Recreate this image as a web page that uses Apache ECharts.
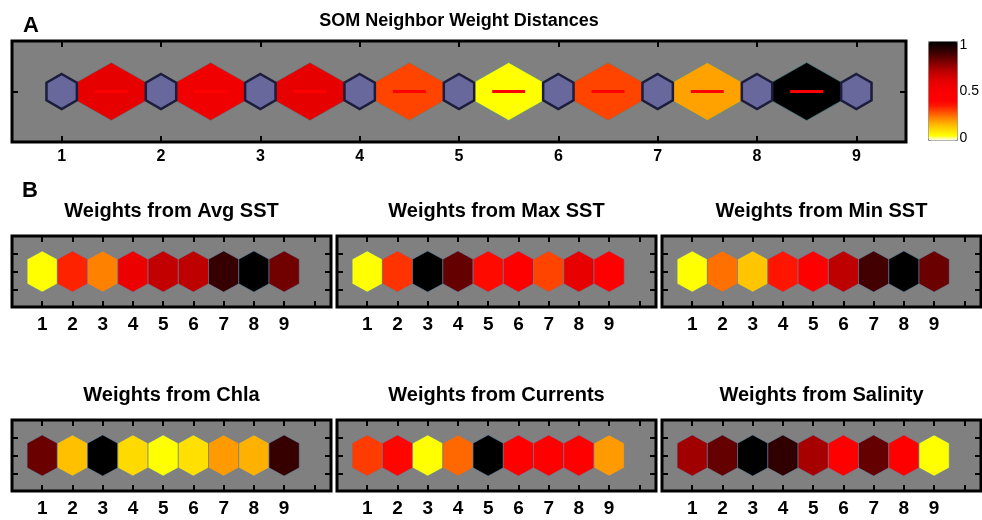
<!DOCTYPE html>
<html>
<head>
<meta charset="utf-8">
<title>SOM weights</title>
<script src="https://cdn.jsdelivr.net/npm/echarts@6/dist/echarts.min.js"></script>
<style>
  html, body { margin: 0; padding: 0; background: #fff; }
  #chart { width: 982px; height: 520px; }
</style>
</head>
<body>
<div id="chart"></div>
<script>
// node labels / positions along the 1-D SOM
const nodeLabels = ['1', '2', '3', '4', '5', '6', '7', '8', '9'];
const nodePos = [1, 2, 3, 4, 5, 6, 7, 8, 9];

// distances between neighbouring neurons (0..1)
const neighborDist = [0.60, 0.55, 0.60, 0.30, 0.05, 0.30, 0.19, 1.00];

// weight planes
const planeTitles = ['Weights from Avg SST', 'Weights from Max SST', 'Weights from Min SST',
                     'Weights from Chla', 'Weights from Currents', 'Weights from Salinity'];
const avgSST    = [0.05, 0.34, 0.23, 0.57, 0.68, 0.69, 0.90, 1.00, 0.81];
const maxSST    = [0.05, 0.32, 1.00, 0.83, 0.38, 0.42, 0.30, 0.60, 0.43];
const minSST    = [0.05, 0.25, 0.14, 0.36, 0.41, 0.69, 0.88, 1.00, 0.82];
const chla      = [0.82, 0.15, 1.00, 0.11, 0.05, 0.10, 0.20, 0.17, 0.90];
const currents  = [0.31, 0.39, 0.05, 0.26, 1.00, 0.42, 0.43, 0.44, 0.20];
const salinity  = [0.74, 0.83, 1.00, 0.91, 0.73, 0.42, 0.83, 0.43, 0.05];
const planeValues = [avgSST, maxSST, minSST, chla, currents, salinity];

// colorbar ticks
const colorTicks = [0, 0.5, 1];
// reversed "hot" map, 0 -> 1
const hotColors = ['#ffffff', '#ffff00', '#ffe000', '#ffc000', '#ff9a00', '#ff7000', '#ff4400',
                   '#ff1a00', '#ff0000', '#ff0000', '#fa0000', '#f00000', '#e60000', '#d20000',
                   '#b80000', '#9a0000', '#780000', '#560000', '#360000', '#1a0000', '#000000'];

const chart = echarts.init(document.getElementById('chart'));
const FONT = 'Liberation Sans, Arial, sans-serif';

// grid boxes (px)
const gridA = {left: 12, top: 41, width: 894, height: 101};
const colW = 319, rowH = 71;
const colX = [12, 337, 662];
const rowY = [236, 420];
const gridsB = [];
rowY.forEach(y => colX.forEach(x => gridsB.push({left: x, top: y, width: colW, height: rowH})));

function hexPoints(c, w, h, k) {
    return [[c[0], c[1] - h], [c[0] + w, c[1] - h * k], [c[0] + w, c[1] + h * k],
            [c[0], c[1] + h], [c[0] - w, c[1] + h * k], [c[0] - w, c[1] - h * k]];
}

const grids = [], xAxes = [], yAxes = [], series = [];
const noLine = {show: false, onZero: false};

function addGrid(box, xmin, xmax, xTicks, yTicks, labelSize, labelMargin) {
    const gi = grids.length;
    grids.push(Object.assign({show: true, backgroundColor: '#808080', borderColor: '#000',
                              borderWidth: 3, containLabel: false}, box));
    const tick = {inside: true, length: 6, lineStyle: {color: '#000', width: 2}};
    xAxes.push({
        gridIndex: gi, type: 'value', min: xmin, max: xmax, position: 'bottom',
        axisLine: noLine, splitLine: {show: false},
        axisTick: Object.assign({customValues: xTicks}, tick),
        axisLabel: {
            customValues: nodePos, color: '#000', fontFamily: FONT, fontWeight: 'bold',
            fontSize: labelSize, margin: labelMargin,
            formatter: v => nodeLabels[nodePos.indexOf(v)] || ''
        }
    });
    xAxes.push({
        gridIndex: gi, type: 'value', min: xmin, max: xmax, position: 'top',
        axisLine: noLine, splitLine: {show: false},
        axisTick: Object.assign({customValues: xTicks}, tick),
        axisLabel: {show: false}
    });
    ['left', 'right'].forEach(pos => yAxes.push({
        gridIndex: gi, type: 'value', min: -1, max: 1, position: pos,
        axisLine: noLine, splitLine: {show: false},
        axisTick: Object.assign({customValues: yTicks}, tick),
        axisLabel: {show: false}
    }));
    return gi;
}

// ---- panel A ----
const gA = addGrid(gridA, 0.5, 9.5, nodePos, [0], 16, 7);

series.push({
    type: 'custom', name: 'distance', xAxisIndex: gA * 2, yAxisIndex: gA * 2, z: 2,
    data: neighborDist.map((d, i) => [(nodePos[i] + nodePos[i + 1]) / 2, 0, d]),
    encode: {x: 0, y: 1},
    renderItem: (params, api) => {
        const c = api.coord([api.value(0), api.value(1)]);
        const s = api.size([1, 1]);
        const w = 0.36 * s[0], h = 0.574 * s[1], l = 0.166 * s[0];
        return {
            type: 'group',
            children: [
                {type: 'polygon', shape: {points: hexPoints(c, w, h, 0.3)},
                 style: {fill: api.visual('color'), stroke: 'rgba(70,140,140,0.6)', lineWidth: 1}},
                {type: 'line', shape: {x1: c[0] - l, y1: c[1], x2: c[0] + l, y2: c[1]},
                 style: {stroke: '#ff0000', lineWidth: 3}}
            ]
        };
    }
});

series.push({
    type: 'custom', name: 'neurons', xAxisIndex: gA * 2, yAxisIndex: gA * 2, z: 3,
    data: nodePos.map(p => [p, 0]),
    encode: {x: 0, y: 1},
    renderItem: (params, api) => {
        const c = api.coord([api.value(0), api.value(1)]);
        const s = api.size([1, 1]);
        return {
            type: 'polygon',
            shape: {points: hexPoints(c, 0.153 * s[0], 0.347 * s[1], 0.5)},
            style: {fill: '#68689c', stroke: '#1c1c3c', lineWidth: 2.5}
        };
    }
});

// ---- panel B ----
const tickB = nodePos.concat([10]);
planeValues.forEach((vals, k) => {
    const gi = addGrid(gridsB[k], 0, 10.55, tickB, [-0.5, 0, 0.5], 19, 8);
    series.push({
        type: 'custom', name: planeTitles[k], xAxisIndex: gi * 2, yAxisIndex: gi * 2, z: 2,
        data: vals.map((v, i) => [nodePos[i], 0, v]),
        encode: {x: 0, y: 1},
        renderItem: (params, api) => {
            const c = api.coord([api.value(0), api.value(1)]);
            const s = api.size([1, 1]);
            return {
                type: 'polygon',
                shape: {points: hexPoints(c, 0.5 * s[0], 0.58 * s[1], 0.6)},
                style: {fill: api.visual('color'), stroke: 'rgba(100,130,160,0.6)', lineWidth: 1}
            };
        }
    });
});

// ---- colorbar axis ----
const gC = grids.length;
grids.push({show: false, left: 928, top: 45, width: 29, height: 93});
xAxes.push({gridIndex: gC, type: 'value', show: false, min: 0, max: 1});
yAxes.push({
    gridIndex: gC, type: 'value', min: 0, max: 1, interval: 0.5, position: 'right',
    axisLine: noLine, axisTick: {show: false}, splitLine: {show: false},
    axisLabel: {color: '#000', fontFamily: FONT, fontSize: 14, margin: 11,
                formatter: v => colorTicks.indexOf(v) >= 0 ? String(v) : ''}
});

const coloredSeries = series.map((s, i) => i).filter(i => i !== 1);

const textEls = [
    {left: 31, top: 26, text: 'A', fs: 22},
    {left: 30, top: 191, text: 'B', fs: 22},
    {left: gridA.left + gridA.width / 2, top: 21, text: 'SOM Neighbor Weight Distances', fs: 18}
];
planeTitles.forEach((t, k) => {
    const b = gridsB[k];
    textEls.push({left: b.left + b.width / 2, top: b.top - 25, text: t, fs: 20});
});

const option = {
    animation: false,
    grid: grids,
    xAxis: xAxes,
    yAxis: yAxes,
    visualMap: {
        type: 'continuous', min: 0, max: 1, dimension: 2, seriesIndex: coloredSeries,
        inRange: {color: hotColors},
        orient: 'vertical', left: 928, top: 41, itemWidth: 29, itemHeight: 99,
        padding: 0, calculable: false, hoverLink: false,
        borderColor: '#8a8a8a', borderWidth: 1
    },
    graphic: textEls.map(e => ({
        type: 'text', x: e.left, y: e.top, z: 10,
        style: {text: e.text, fill: '#000', font: 'bold ' + e.fs + 'px ' + FONT,
                textAlign: 'center', textVerticalAlign: 'middle'}
    })),
    series: series
};

chart.setOption(option);
</script>
</body>
</html>
